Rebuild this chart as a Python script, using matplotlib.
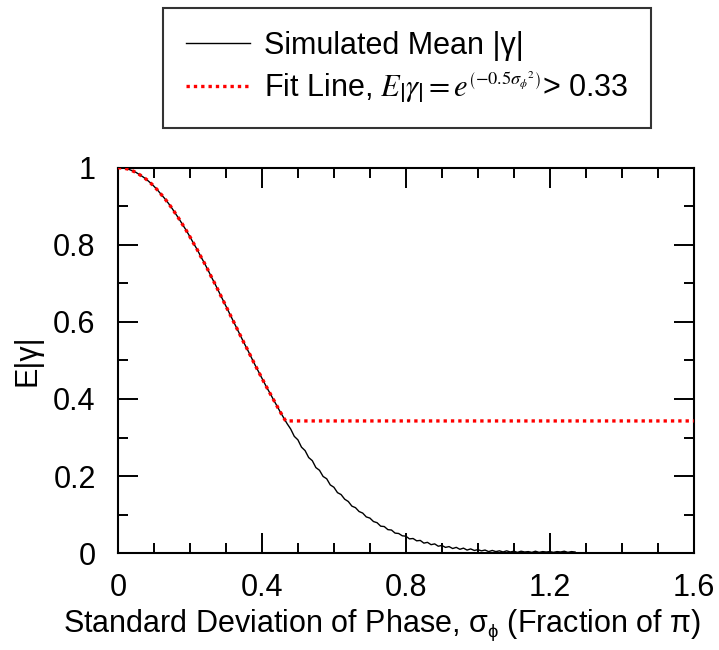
import numpy as np
import matplotlib
matplotlib.use("Agg")
import matplotlib.pyplot as plt
import matplotlib._mathtext as _mt
from matplotlib.ticker import MultipleLocator, FormatStrFormatter

plt.rcParams['font.family'] = ['Liberation Sans', 'DejaVu Sans']
plt.rcParams['mathtext.fontset'] = 'stix'
_mt.SHRINK_FACTOR = 0.6  # smaller exponent, as in the reference legend

# ---- data ----
sim_x_step = 0.01
sim_y = [
    1.000, 0.9995, 0.998, 0.996, 0.992, 0.988, 0.982, 0.976, 0.969, 0.961,
    0.952, 0.942, 0.931, 0.920, 0.908, 0.895, 0.881, 0.867, 0.852, 0.837,
    0.821, 0.804, 0.788, 0.770, 0.753, 0.735, 0.716, 0.698, 0.679, 0.660,
    0.641, 0.622, 0.603, 0.584, 0.565, 0.546, 0.528, 0.509, 0.490, 0.472,
    0.454, 0.436, 0.419, 0.402, 0.385, 0.368, 0.352,
    0.336, 0.322, 0.303, 0.294, 0.275, 0.266, 0.248, 0.240, 0.222, 0.215,
    0.199, 0.193, 0.177, 0.171, 0.157, 0.152, 0.140, 0.134, 0.122, 0.118,
    0.108, 0.104, 0.094, 0.091, 0.082, 0.079, 0.070, 0.069, 0.061, 0.060,
    0.052, 0.051, 0.045, 0.044, 0.037, 0.038, 0.032, 0.033, 0.026, 0.028,
    0.022, 0.024, 0.018, 0.020, 0.015, 0.017, 0.012, 0.015, 0.010, 0.013,
    0.008, 0.011, 0.007, 0.009, 0.006, 0.008, 0.004, 0.007, 0.004, 0.006,
    0.003, 0.006, 0.003, 0.005, 0.002, 0.005, 0.003, 0.004, 0.002, 0.005,
    0.002, 0.004, 0.003, 0.004, 0.002, 0.004, 0.003, 0.005, 0.002, 0.004,
    0.003,
]
sim_x = np.arange(len(sim_y)) * sim_x_step

fit_curve_y = [
    1.000, 0.9995, 0.998, 0.996, 0.992, 0.988, 0.982, 0.976, 0.969, 0.961,
    0.952, 0.942, 0.931, 0.920, 0.908, 0.895, 0.881, 0.867, 0.852, 0.837,
    0.821, 0.804, 0.788, 0.770, 0.753, 0.735, 0.716, 0.698, 0.679, 0.660,
    0.641, 0.622, 0.603, 0.584, 0.565, 0.546, 0.528, 0.509, 0.490, 0.472,
    0.454, 0.436, 0.419, 0.402, 0.385, 0.368, 0.352,
]
fit_floor_x = [0.466, 1.6]
fit_floor_y = [0.343, 0.343]
fit_x = list(np.arange(len(fit_curve_y)) * sim_x_step) + fit_floor_x
fit_y = fit_curve_y + fit_floor_y

x_ticks = [0, 0.4, 0.8, 1.2, 1.6]
y_ticks = [0, 0.2, 0.4, 0.6, 0.8, 1.0]

# ---- figure ----
fig = plt.figure(figsize=(7.19, 6.5), dpi=100)
ax = fig.add_axes([0.164, 0.149, 0.801, 0.593])

l1, = ax.plot(sim_x, sim_y, color='black', lw=1.0, zorder=2)
l2, = ax.plot(fit_x, fit_y, color='#ff0000', lw=2.4,
              linestyle=(0, (1, 1.2)), zorder=3)

ax.set_xlim(0, 1.6)
ax.set_ylim(0, 1.0)
ax.set_xticks(x_ticks)
ax.set_yticks(y_ticks)
ax.xaxis.set_minor_locator(MultipleLocator(0.1))
ax.yaxis.set_minor_locator(MultipleLocator(0.1))
ax.xaxis.set_major_formatter(FormatStrFormatter('%g'))
ax.yaxis.set_major_formatter(FormatStrFormatter('%g'))
ax.tick_params(which='both', direction='in', top=True, right=True,
               width=1.4, labelsize=22)
ax.tick_params(axis='x', which='major', length=14.4, pad=14)
ax.tick_params(axis='y', which='major', length=14.4, pad=16)
ax.tick_params(which='minor', length=7.2)
for s in ax.spines.values():
    s.set_linewidth(1.5)

ax.set_xlabel(r'Standard Deviation of Phase, $\mathregular{σ_ϕ}$ (Fraction of π)',
              fontsize=22, labelpad=3)
ax.xaxis.set_label_coords(0.458, -0.14)
ax.set_ylabel('E|γ|', fontsize=22, labelpad=8)

leg = fig.legend([l1, l2],
                 ['Simulated Mean |γ|',
                  r'Fit Line, $E\left|\gamma\right|=e^{\left(-0.5\sigma_\phi{}^2\right)}$> 0.33'],
                 loc='upper left', bbox_to_anchor=(0.227, 0.988),
                 fontsize=22, frameon=True, fancybox=False,
                 edgecolor='black', handlelength=2.1, handletextpad=0.45,
                 borderpad=0.75, labelspacing=0.3, borderaxespad=0)
leg.get_frame().set_linewidth(1.5)

fig.savefig('out.png', dpi=100)
